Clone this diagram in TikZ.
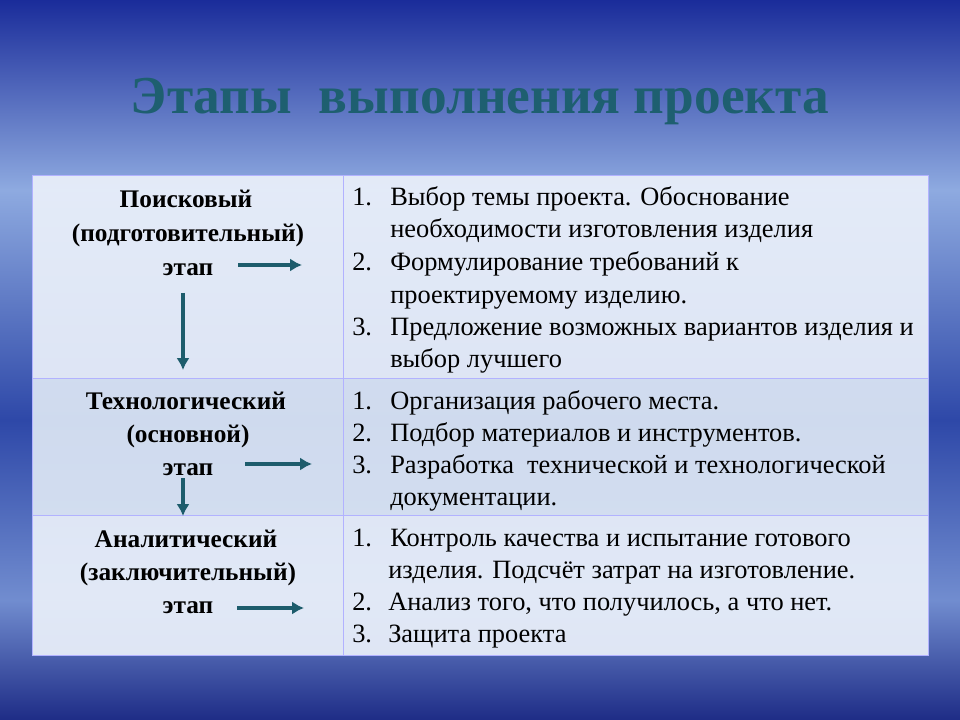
\documentclass[tikz,border=0pt]{standalone}
\usepackage{fontspec}
\setmainfont{Liberation Serif}
\usetikzlibrary{arrows.meta}
\begin{document}
\begin{tikzpicture}[x=0.75pt,y=-0.75pt,
  lt/.style={font=\fontsize{19}{22}\selectfont\bfseries, text=black, align=center, inner sep=0},
  rt/.style={font=\fontsize{19.8}{22}\selectfont, anchor=base west, inner sep=0, text=black},
  arr/.style={draw=arrcol, line width=3pt, -{Latex[length=9pt,width=10pt]}},
  cell/.style={fill=cellcol, fill opacity=0.93, draw=white!70!blue, line width=0.6pt}]
\definecolor{bgtop}{HTML}{1A2C9A}
\definecolor{bgmid}{HTML}{8EAAE0}
\definecolor{bglow}{HTML}{2E48A8}
\definecolor{bgbot}{HTML}{1E2C86}
\definecolor{cellcol}{HTML}{EAF0FA}
\definecolor{cellcol2}{HTML}{DCE6F4}
\definecolor{arrcol}{HTML}{1D5C6C}
\definecolor{titlecol}{HTML}{1E5F70}
\useasboundingbox (0,0) rectangle (960,720);
\shade[top color=bgtop, bottom color=bgmid] (0,0) rectangle (960,190);
\shade[top color=bgmid, bottom color=bglow] (0,190) rectangle (960,420);
\shade[top color=bglow, bottom color=bgmid!70!bglow] (0,420) rectangle (960,600);
\shade[top color=bgmid!70!bglow, bottom color=bgbot] (0,600) rectangle (960,720);
% title
\node (title) [font=\fontsize{40}{44}\selectfont\bfseries, text=titlecol] at (480,102) {Этапы\ \ выполнения проекта};
% table
\path[cell] (32,175) rectangle (343,378);
\path[cell] (343,175) rectangle (928,378);
\path[cell, fill=cellcol2] (32,378) rectangle (343,515);
\path[cell, fill=cellcol2] (343,378) rectangle (928,515);
\path[cell] (32,515) rectangle (343,655);
\path[cell] (343,515) rectangle (928,655);
% left column
\node (l1a) [lt] at (186,199) {Поисковый};
\node (l1b) [lt] at (188,235) {(подготовительный)};
\node (l1c) [lt] at (188,270) {этап};
\node (l2a) [lt] at (186,401) {Технологический};
\node (l2b) [lt] at (188,436) {(основной)};
\node (l2c) [lt] at (188,470) {этап};
\node (l3a) [lt] at (186,539) {Аналитический};
\node (l3b) [lt] at (188,574) {(заключительный)};
\node (l3c) [lt] at (188,608) {этап};
\coordinate (h1s) at (238,265); \coordinate (h1e) at (302,265);
\coordinate (v1s) at (183,293); \coordinate (v1e) at (183,370);
\coordinate (h2s) at (245,464); \coordinate (h2e) at (312,464);
\coordinate (v2s) at (183,478); \coordinate (v2e) at (183,516);
\coordinate (h3s) at (237,608); \coordinate (h3e) at (304,608);
\draw[arr] (h1s) -- (h1e);
\draw[arr] (v1s) -- (v1e);
\draw[arr] (h2s) -- (h2e);
\draw[arr] (v2s) -- (v2e);
\draw[arr] (h3s) -- (h3e);
% right column
\node (n1) [rt] at (352,206) {1.}; \node (t1) [rt] at (390,206) {Выбор темы проекта. Обоснование};
\node (t1b) [rt] at (390,238) {необходимости изготовления изделия};
\node (n2) [rt] at (352,271) {2.}; \node (t2) [rt] at (390,271) {Формулирование требований к};
\node (t2b) [rt] at (390,303) {проектируемому изделию.};
\node (n3) [rt] at (352,335) {3.}; \node (t3) [rt] at (390,335) {Предложение возможных вариантов изделия и};
\node (t3b) [rt] at (390,367) {выбор лучшего};
\node (n4) [rt] at (352,409) {1.}; \node (t4) [rt] at (390,409) {Организация рабочего места.};
\node (n5) [rt] at (352,441) {2.}; \node (t5) [rt] at (390,441) {Подбор материалов и инструментов.};
\node (n6) [rt] at (352,473) {3.}; \node (t6) [rt] at (390,473) {Разработка\ \ технической и технологической};
\node (t6b) [rt] at (390,505) {документации.};
\node (n7) [rt] at (352,546) {1.}; \node (t7) [rt] at (390,546) {Контроль качества и испытание готового};
\node (t7b) [rt] at (388,578) {изделия. Подсчёт затрат на изготовление.};
\node (n8) [rt] at (352,610) {2.}; \node (t8) [rt] at (388,610) {Анализ того, что получилось, а что нет.};
\node (n9) [rt] at (352,642) {3.}; \node (t9) [rt] at (388,642) {Защита проекта};
\end{tikzpicture}
\end{document}
